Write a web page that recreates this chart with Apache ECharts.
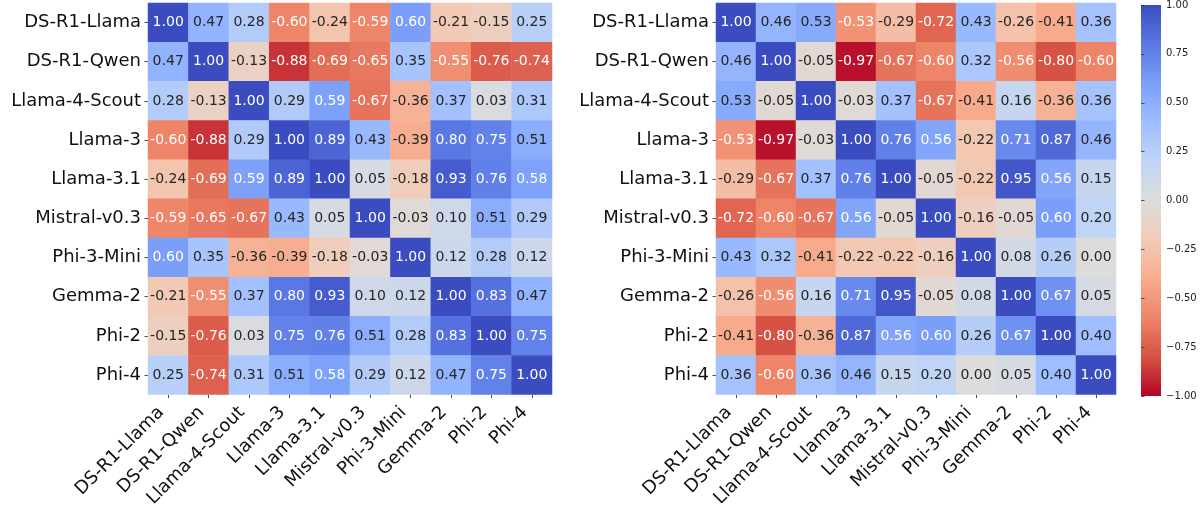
<!DOCTYPE html>
<html><head><meta charset="utf-8">
<script src="https://cdn.jsdelivr.net/npm/echarts/dist/echarts.min.js"></script>
<style>html,body{margin:0;padding:0;background:#fff}#c{width:1203px;height:510px}</style>
</head><body><div id="c"></div>
<script>
const models = ['DS-R1-Llama','DS-R1-Qwen','Llama-4-Scout','Llama-3','Llama-3.1','Mistral-v0.3','Phi-3-Mini','Gemma-2','Phi-2','Phi-4'];

const leftMatrix = [
  [ 1.00,  0.47,  0.28, -0.60, -0.24, -0.59,  0.60, -0.21, -0.15,  0.25],
  [ 0.47,  1.00, -0.13, -0.88, -0.69, -0.65,  0.35, -0.55, -0.76, -0.74],
  [ 0.28, -0.13,  1.00,  0.29,  0.59, -0.67, -0.36,  0.37,  0.03,  0.31],
  [-0.60, -0.88,  0.29,  1.00,  0.89,  0.43, -0.39,  0.80,  0.75,  0.51],
  [-0.24, -0.69,  0.59,  0.89,  1.00,  0.05, -0.18,  0.93,  0.76,  0.58],
  [-0.59, -0.65, -0.67,  0.43,  0.05,  1.00, -0.03,  0.10,  0.51,  0.29],
  [ 0.60,  0.35, -0.36, -0.39, -0.18, -0.03,  1.00,  0.12,  0.28,  0.12],
  [-0.21, -0.55,  0.37,  0.80,  0.93,  0.10,  0.12,  1.00,  0.83,  0.47],
  [-0.15, -0.76,  0.03,  0.75,  0.76,  0.51,  0.28,  0.83,  1.00,  0.75],
  [ 0.25, -0.74,  0.31,  0.51,  0.58,  0.29,  0.12,  0.47,  0.75,  1.00]
];

const rightMatrix = [
  [ 1.00,  0.46,  0.53, -0.53, -0.29, -0.72,  0.43, -0.26, -0.41,  0.36],
  [ 0.46,  1.00, -0.05, -0.97, -0.67, -0.60,  0.32, -0.56, -0.80, -0.60],
  [ 0.53, -0.05,  1.00, -0.03,  0.37, -0.67, -0.41,  0.16, -0.36,  0.36],
  [-0.53, -0.97, -0.03,  1.00,  0.76,  0.56, -0.22,  0.71,  0.87,  0.46],
  [-0.29, -0.67,  0.37,  0.76,  1.00, -0.05, -0.22,  0.95,  0.56,  0.15],
  [-0.72, -0.60, -0.67,  0.56, -0.05,  1.00, -0.16, -0.05,  0.60,  0.20],
  [ 0.43,  0.32, -0.41, -0.22, -0.22, -0.16,  1.00,  0.08,  0.26,  0.00],
  [-0.26, -0.56,  0.16,  0.71,  0.95, -0.05,  0.08,  1.00,  0.67,  0.05],
  [-0.41, -0.80, -0.36,  0.87,  0.56,  0.60,  0.26,  0.67,  1.00,  0.40],
  [ 0.36, -0.60,  0.36,  0.46,  0.15,  0.20,  0.00,  0.05,  0.40,  1.00]
];

const colorbarMin = -1, colorbarMax = 1, colorbarStep = 0.25;

// coolwarm reversed: red at -1, blue at +1
const coolwarmR = ['#b40426','#d65244','#ee8468','#f7ac8e','#f2cbb7','#dddcdc','#c0d4f5','#9ebeff','#7b9ff9','#5a78e4','#3b4cc0'];

function hexToRgb(h){return [1,3,5].map(i=>parseInt(h.substr(i,2),16));}
function colorAt(v){
  let t=(v-colorbarMin)/(colorbarMax-colorbarMin)*(coolwarmR.length-1);
  t=Math.max(0,Math.min(coolwarmR.length-1,t));
  const i=Math.min(Math.floor(t),coolwarmR.length-2), f=t-i;
  const a=hexToRgb(coolwarmR[i]), b=hexToRgb(coolwarmR[i+1]);
  return a.map((x,k)=>x+(b[k]-x)*f);
}
function textColor(v){
  const rgb=colorAt(v).map(c=>{c/=255;return c<=0.03928?c/12.92:Math.pow((c+0.055)/1.055,2.4);});
  const L=0.2126*rgb[0]+0.7152*rgb[1]+0.0722*rgb[2];
  return L>0.408?'#262626':'#ffffff';
}
function toData(m){
  const d=[];
  m.forEach((row,i)=>row.forEach((v,j)=>d.push({value:[j,i,v],label:{color:textColor(v)}})));
  return d;
}

const FONT='DejaVu Sans';
function xAx(gi){return {type:'category',gridIndex:gi,data:models,
  axisLine:{show:false},axisTick:{show:true,alignWithLabel:true,length:3.5,lineStyle:{color:'#222',width:0.8}},
  axisLabel:{rotate:45,fontSize:18,fontFamily:FONT,color:'#111',margin:8,padding:[0,10,0,0],interval:0},splitLine:{show:false}};}
function yAx(gi){return {type:'category',gridIndex:gi,data:models,inverse:true,
  axisLine:{show:false},axisTick:{show:true,alignWithLabel:true,length:3.5,lineStyle:{color:'#222',width:0.8}},
  axisLabel:{fontSize:18,fontFamily:FONT,color:'#111',margin:7,interval:0},splitLine:{show:false}};}

const chart=echarts.init(document.getElementById('c'),null,{renderer:'canvas'});
chart.setOption({
  animation:false,
  backgroundColor:'#ffffff',
  textStyle:{fontFamily:FONT},
  grid:[
    {left:148,top:3,width:404,height:394},
    {left:716,top:3,width:400,height:394},
    {left:1141,top:4,width:20,height:392}
  ],
  xAxis:[xAx(0),xAx(1),{type:'value',gridIndex:2,show:false,min:0,max:1}],
  yAxis:[yAx(0),yAx(1),{type:'value',gridIndex:2,position:'right',min:colorbarMin,max:colorbarMax,interval:colorbarStep,
    axisLine:{show:false},splitLine:{show:false},
    axisTick:{show:true,length:3.5,lineStyle:{color:'#333',width:0.8}},
    axisLabel:{fontSize:10,fontFamily:FONT,color:'#222',margin:5,
      formatter:v=>(v<0?'\u2212':'')+Math.abs(v).toFixed(2)}}],
  visualMap:{type:'continuous',min:colorbarMin,max:colorbarMax,seriesIndex:[0,1],show:false,
    inRange:{color:coolwarmR}},
  series:[
    {type:'heatmap',xAxisIndex:0,yAxisIndex:0,data:toData(leftMatrix),
      label:{show:true,fontSize:14,fontFamily:FONT,formatter:p=>p.value[2].toFixed(2)},
      itemStyle:{borderWidth:0},emphasis:{disabled:true}},
    {type:'heatmap',xAxisIndex:1,yAxisIndex:1,data:toData(rightMatrix),
      label:{show:true,fontSize:14,fontFamily:FONT,formatter:p=>p.value[2].toFixed(2)},
      itemStyle:{borderWidth:0},emphasis:{disabled:true}},
    {type:'line',xAxisIndex:2,yAxisIndex:2,data:[],silent:true}
  ]
});
// colorbar gradient, placed from the colorbar axis scale
const pTop=chart.convertToPixel({xAxisIndex:2,yAxisIndex:2},[0,colorbarMax]);
const pBot=chart.convertToPixel({xAxisIndex:2,yAxisIndex:2},[1,colorbarMin]);
const stops=coolwarmR.slice().reverse().map((c,i,a)=>({offset:i/(a.length-1),color:c}));
chart.setOption({graphic:[{type:'rect',z:0,silent:true,
  shape:{x:pTop[0],y:pTop[1],width:pBot[0]-pTop[0],height:pBot[1]-pTop[1]},
  style:{fill:new echarts.graphic.LinearGradient(0,0,0,1,stops)}}]});
</script></body></html>
